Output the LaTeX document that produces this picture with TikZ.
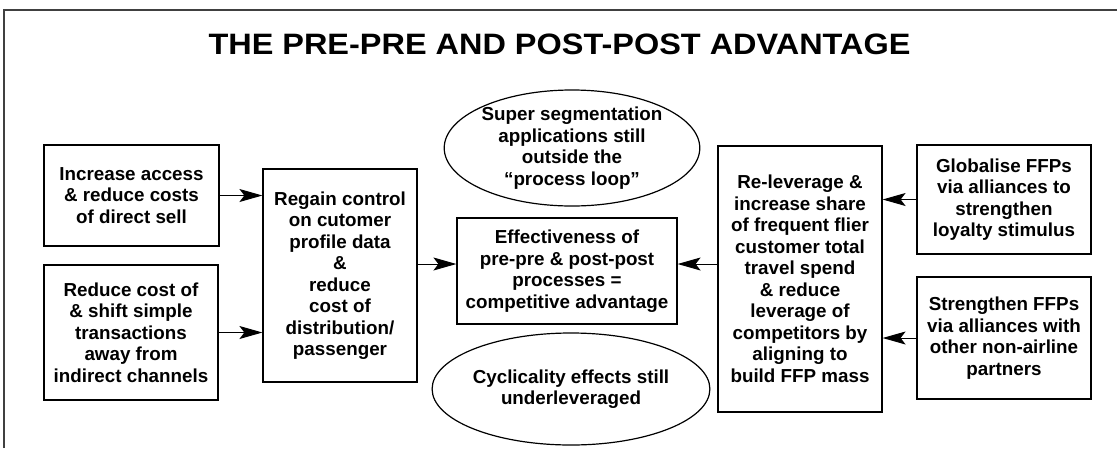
\documentclass[tikz,border=0pt]{standalone}
\usepackage{fontspec}
\setmainfont{Liberation Sans}
\usetikzlibrary{shapes.geometric,arrows.meta}
\begin{document}
\begin{tikzpicture}[x=1pt,y=-1pt,
  txt/.style={font=\fontsize{18.8}{21.5}\selectfont\bfseries, align=center, inner sep=0pt},
  box/.style={txt, draw, line width=1.2pt},
  oval/.style={txt, draw, ellipse, line width=1.2pt, minimum width=241pt, minimum height=112pt},
  arr/.style={line width=1pt, -{Stealth[length=23pt,width=13pt,inset=5pt]}}]
\useasboundingbox (0,0) rectangle (1117,448);
% frame
\draw[line width=1.5pt, black!75] (4,448) -- (4,10) -- (1117,10);
% title
\node[font=\fontsize{29.5}{36}\selectfont\bfseries, inner sep=0pt, xscale=1.1] (title) at (559.5,44.7) {THE PRE-PRE AND POST-POST ADVANTAGE};
% left column
\node[box, minimum width=175pt, minimum height=101pt] (acc) at (131.5,195.5)
  {Increase access\\\& reduce costs\\of direct sell};
\node[box, minimum width=174pt, minimum height=135pt] (red) at (131,332.5)
  {Reduce cost of\\\& shift simple\\transactions\\away from\\indirect channels};
\node[box, minimum width=154pt, minimum height=213pt] (reg) at (340,275.5)
  {Regain control\\on cutomer\\profile data\\\&\\reduce\\cost of\\distribution/\\passenger};
% centre
\node[box, minimum width=220pt, minimum height=106pt] (eff) at (567,271)
  {Effectiveness of\\pre-pre \& post-post\\processes =\\competitive advantage};
\node[oval] (sup) at (572,148)
  {Super segmentation\\applications still\\outside the\\“process loop”};
\node[oval] (cyc) at (571,389)
  {Cyclicality effects still\\underleveraged};
% right column
\node[box, minimum width=164pt, minimum height=266pt] (rel) at (800,279)
  {Re-leverage \&\\increase share\\of frequent flier\\customer total\\travel spend\\\& reduce\\leverage of\\competitors by\\aligning to\\build FFP mass};
\node[box, minimum width=174pt, minimum height=109pt] (glo) at (1004,199.5)
  {Globalise FFPs\\via alliances to\\strengthen\\loyalty stimulus};
\node[box, minimum width=174pt, minimum height=122pt] (str) at (1004,338)
  {Strengthen FFPs\\via alliances with\\other non-airline\\partners};
% connectors
\draw[arr] (acc.east) -- (acc.east -| reg.west);
\draw[arr] (red.east) -- (red.east -| reg.west);
\draw[arr] ([yshift=7pt]eff.west -| reg.east) -- ([yshift=7pt]eff.west);
\draw[arr] ([yshift=7pt]eff.east -| rel.west) -- ([yshift=7pt]eff.east);
\draw[arr] (glo.west) -- (glo.west -| rel.east);
\draw[arr] (str.west) -- (str.west -| rel.east);
\end{tikzpicture}
\end{document}
